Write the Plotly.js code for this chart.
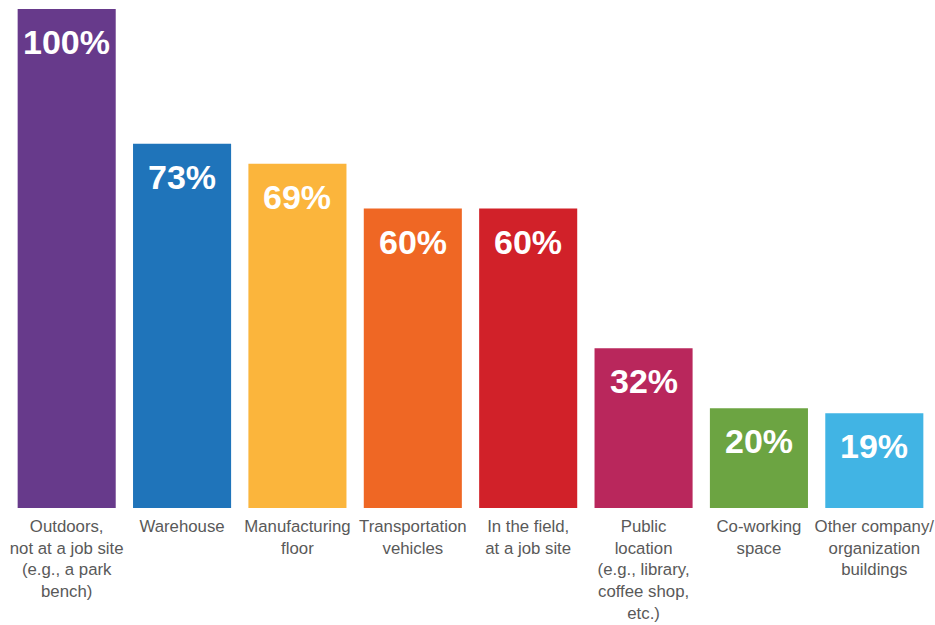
<!DOCTYPE html>
<html>
<head>
<meta charset="utf-8">
<script src="https://cdn.plot.ly/plotly-3.0.1.min.js"></script>
<style>html,body{margin:0;padding:0;background:#fff;}#chart{width:935px;height:625px;}</style>
</head>
<body>
<div id="chart"></div>
<script>
const categories = [
  "Outdoors,<br>not at a job site<br>(e.g., a park<br>bench)",
  "Warehouse",
  "Manufacturing<br>floor",
  "Transportation<br>vehicles",
  "In the field,<br>at a job site",
  "Public<br>location<br>(e.g., library,<br>coffee shop,<br>etc.)",
  "Co-working<br>space",
  "Other company/<br>organization<br>buildings"
];
const values = [100, 73, 69, 60, 60, 32, 20, 19];
const barColors = ["#673a8b", "#1f74ba", "#fbb53c", "#ef6724", "#d12129", "#b9275c", "#6ca442", "#41b4e4"];

const trace = {
  type: "bar",
  x: categories,
  y: values,
  marker: {color: barColors, line: {width: 0}},
  hoverinfo: "none"
};

const annotations = values.map((v, i) => ({
  x: categories[i],
  y: v,
  xref: "x",
  yref: "y",
  text: "<b>" + v + "%</b>",
  showarrow: false,
  yanchor: "top",
  yshift: -12,
  font: {family: "Liberation Sans, Arial, sans-serif", size: 34, color: "#ffffff"}
}));

const layout = {
  width: 935,
  height: 625,
  margin: {l: 9, r: 3, t: 9, b: 117, pad: 0},
  paper_bgcolor: "#ffffff",
  plot_bgcolor: "#ffffff",
  bargap: 0.15,
  showlegend: false,
  font: {family: "Liberation Sans, Arial, sans-serif"},
  xaxis: {
    type: "category",
    showgrid: false,
    zeroline: false,
    showline: false,
    ticks: "",
    tickangle: 0,
    automargin: false,
    ticklabelstandoff: 6,
    tickfont: {family: "Liberation Sans, Arial, sans-serif", size: 16.8, color: "#595959"}
  },
  yaxis: {
    range: [0, 100],
    visible: false,
    showgrid: false,
    zeroline: false,
    fixedrange: true
  },
  annotations: annotations
};

Plotly.newPlot("chart", [trace], layout, {displayModeBar: false, staticPlot: true});
</script>
</body>
</html>
